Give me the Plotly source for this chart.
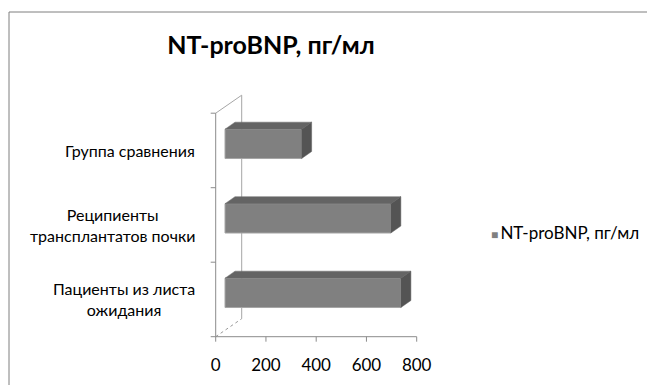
import plotly.graph_objects as go

# ---- data ----
categories = ["Пациенты из листа<br>ожидания",
              "Реципиенты<br>трансплантатов почки",
              "Группа сравнения"]
values = [700, 660, 305]
series_name = "NT-proBNP, пг/мл"
x_ticks = [0, 200, 400, 600, 800]

# ---- geometry (pixels) ----
W, H = 647, 385
L, R, T, B = 205, 210, 90, 40
PW, PH = W - L - R, H - T - B
X0PX = 215.7          # pixel of x=0 on the front plane
SX = 201 / 800        # px per x unit
Y0PX = 336.7          # pixel of y=-0.5 on the front plane
SY = 74.5             # px per category
xr = [(L - X0PX) / SX, (L - X0PX) / SX + PW / SX]
yr = [-0.5 - (H - B - Y0PX) / SY, -0.5 + (Y0PX - T) / SY]

# depth offsets
WX, WY = 26 / SX, 18 / SY          # wall depth
SHX, SHY = 9.3 / SX, 6.6 / SY      # bar front plane shift
BDX, BDY = 10 / SX, 7 / SY         # bar depth
HW = 0.197                         # half bar thickness

pos = list(range(len(categories)))

fig = go.Figure()

# front faces
fig.add_trace(go.Bar(
    x=values, y=pos, orientation="h", base=0, width=2 * HW,
    marker=dict(color="#808080", line=dict(color="#a6a6a6", width=1)),
    xaxis="x2", yaxis="y2", showlegend=False, hoverinfo="skip"))

# top and side faces
tx, ty, sx_, sy_ = [], [], [], []
for p, v in zip(pos, values):
    tx += [0, v, v + BDX, BDX, 0, None]
    ty += [p + HW, p + HW, p + HW + BDY, p + HW + BDY, p + HW, None]
    sx_ += [v, v, v + BDX, v + BDX, v, None]
    sy_ += [p - HW, p + HW, p + HW + BDY, p - HW + BDY, p - HW, None]
fig.add_trace(go.Scatter(x=tx, y=ty, fill="toself", fillcolor="#646464",
                         mode="lines", line=dict(color="#6e6e6e", width=0.5),
                         xaxis="x2", yaxis="y2", showlegend=False, hoverinfo="skip"))
fig.add_trace(go.Scatter(x=sx_, y=sy_, fill="toself", fillcolor="#545454",
                         mode="lines", line=dict(color="#5e5e5e", width=0.5),
                         xaxis="x2", yaxis="y2", showlegend=False, hoverinfo="skip"))

wall = dict(color="#a6a6a6", width=1)
axis = dict(color="#8c8c8c", width=1)
shapes = [
    dict(type="line", x0=WX, x1=WX, y0=-0.5 + WY, y1=2.5 + WY, line=wall),
    dict(type="line", x0=0, x1=WX, y0=2.5, y1=2.5 + WY, line=wall),
    dict(type="line", x0=0, x1=WX, y0=-0.5, y1=-0.5 + WY, line=dict(color="#999999", width=1, dash="dot")),
    dict(type="line", x0=0, x1=0, y0=-0.5, y1=2.5, line=axis),
    dict(type="line", x0=0, x1=x_ticks[-1], y0=-0.5, y1=-0.5, line=axis),
]
for yv in [-0.5, 0.5, 1.5, 2.5]:
    shapes.append(dict(type="line", x0=-5 / SX, x1=0, y0=yv, y1=yv, line=axis))
for xv in x_ticks:
    shapes.append(dict(type="line", x0=xv, x1=xv, y0=-0.5, y1=-0.5 - 5 / SY, line=axis))
for s in shapes:
    s.update(xref="x", yref="y", layer="below")

# chart frame (top and left edges; the rest lies outside the picture)
frame = dict(color="#7f7f7f", width=1)
fx0, fy1 = (9 - L) / PW, (H - B - 12) / PH
shapes.append(dict(type="line", xref="paper", yref="paper", x0=fx0, x1=(W - L) / PW,
                   y0=fy1, y1=fy1, line=frame, layer="below"))
shapes.append(dict(type="line", xref="paper", yref="paper", x0=fx0, x1=fx0,
                   y0=fy1, y1=(H - B - H) / PH, line=frame, layer="below"))

FONT = "Lato, 'Open Sans', sans-serif"
annotations = []
for p, c in zip(pos, categories):
    annotations.append(dict(text=c, xref="paper", yref="y", x=(197 - L) / PW, y=p,
                            xanchor="right", yanchor="middle", align="center",
                            showarrow=False, font=dict(family=FONT, size=16, color="#000")))
annotations.append(dict(text='<span style="color:#808080;font-size:12px">■</span>\u2009' + series_name,
                        xref="paper", yref="paper", x=(489 - L) / PW, y=(H - B - 232) / PH,
                        xanchor="left", yanchor="middle", showarrow=False,
                        font=dict(family=FONT, size=17, color="#000")))

fig.update_layout(
    width=W, height=H, margin=dict(l=L, r=R, t=T, b=B, autoexpand=False),
    paper_bgcolor="white", plot_bgcolor="rgba(0,0,0,0)",
    title=dict(text="<b>" + series_name + "</b>", x=271 / W, xanchor="center",
               y=1 - 45 / H, yanchor="middle", yref="container",
               font=dict(family=FONT, size=25, color="#000")),
    xaxis=dict(range=xr, showgrid=False, zeroline=False, showline=False,
               tickvals=x_ticks, ticks="", tickfont=dict(family=FONT, size=17, color="#000"),
               ticklabelstandoff=8, fixedrange=True),
    yaxis=dict(range=yr, showgrid=False, zeroline=False, showline=False,
               showticklabels=False, ticks="", fixedrange=True),
    xaxis2=dict(range=[xr[0] - SHX, xr[1] - SHX], overlaying="x", visible=False, fixedrange=True),
    yaxis2=dict(range=[yr[0] - SHY, yr[1] - SHY], overlaying="y", visible=False, fixedrange=True),
    shapes=shapes, annotations=annotations, showlegend=False,
)

fig.write_html("out.html", config={"displayModeBar": False},
               post_script=("document.body.style.margin='0';"
                            "document.body.style.overflow='hidden';"
                            "document.documentElement.style.overflow='hidden';"))
